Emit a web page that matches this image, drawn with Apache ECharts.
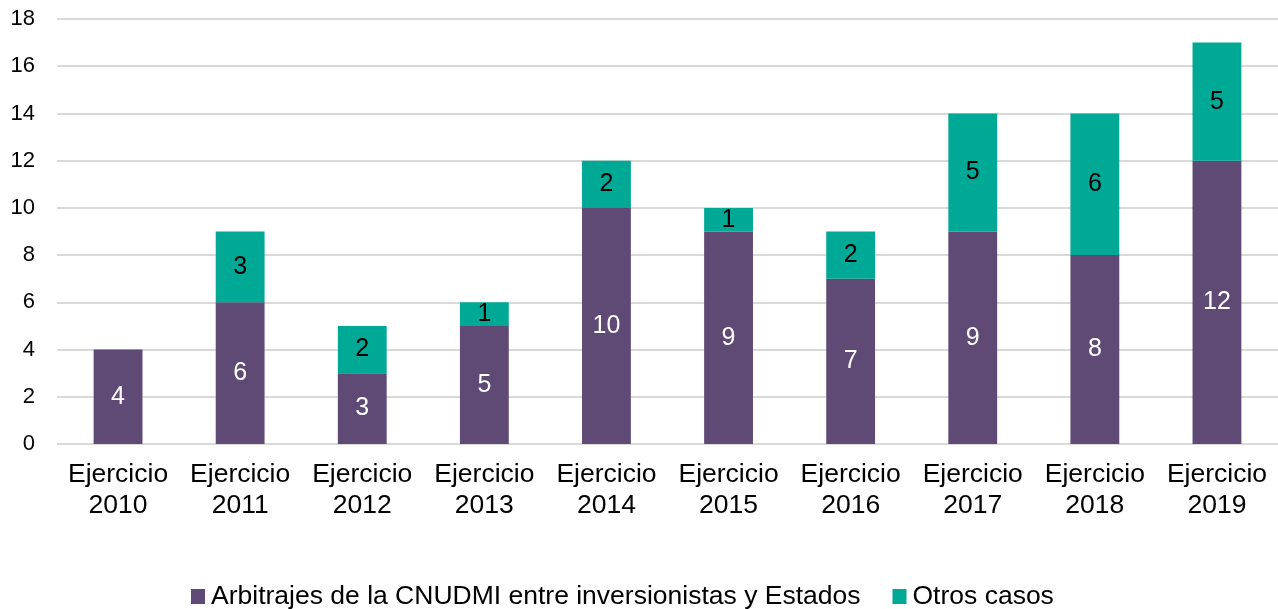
<!DOCTYPE html>
<html>
<head>
<meta charset="utf-8">
<script src="https://cdn.jsdelivr.net/npm/echarts@6/dist/echarts.min.js"></script>
<style>
  html, body { margin: 0; padding: 0; background: #fff; }
  #chart { width: 1278px; height: 609px; }
</style>
</head>
<body>
<div id="chart"></div>
<script>
// datos
const categories = ['Ejercicio\n2010', 'Ejercicio\n2011', 'Ejercicio\n2012', 'Ejercicio\n2013', 'Ejercicio\n2014',
  'Ejercicio\n2015', 'Ejercicio\n2016', 'Ejercicio\n2017', 'Ejercicio\n2018', 'Ejercicio\n2019']
const cnudmi = [4, 6, 3, 5, 10, 9, 7, 9, 8, 12]
const otros = [0, 3, 2, 1, 2, 1, 2, 5, 6, 5]
const seriesNames = ['Arbitrajes de la CNUDMI entre inversionistas y Estados', 'Otros casos']

const font = 'Liberation Sans, Arial, sans-serif'
const myChart = echarts.init(document.getElementById('chart'))
myChart.setOption({
  animation: false,
  color: ['#5f4a75', '#00a896'],
  textStyle: { fontFamily: font },
  grid: { left: 57, right: 0, top: 19, bottom: 165 },
  legend: {
    top: 578,
    left: 186,
    icon: 'rect',
    itemWidth: 14,
    itemHeight: 15,
    itemGap: 32,
    textStyle: { fontSize: 26.5, color: '#000', fontFamily: font, padding: [0, 0, 0, 1] }
  },
  xAxis: {
    type: 'category',
    data: categories,
    axisLine: { show: false },
    axisTick: { show: false },
    axisLabel: { interval: 0, fontSize: 26.5, color: '#000', lineHeight: 31, margin: 15 }
  },
  yAxis: {
    type: 'value',
    min: 0,
    max: 18,
    interval: 2,
    axisLabel: { fontSize: 22, color: '#000', margin: 22 },
    splitLine: { lineStyle: { color: '#d9d9d9', width: 2 } }
  },
  series: [
    {
      name: seriesNames[0],
      type: 'bar',
      stack: 'total',
      barWidth: '40%',
      data: cnudmi,
      label: { show: true, position: 'inside', color: '#fff', fontSize: 25 }
    },
    {
      name: seriesNames[1],
      type: 'bar',
      stack: 'total',
      barWidth: '40%',
      data: otros,
      label: {
        show: true, position: 'inside', color: '#000', fontSize: 25,
        formatter: p => (p.value ? p.value : '')
      }
    }
  ]
})
</script>
</body>
</html>
